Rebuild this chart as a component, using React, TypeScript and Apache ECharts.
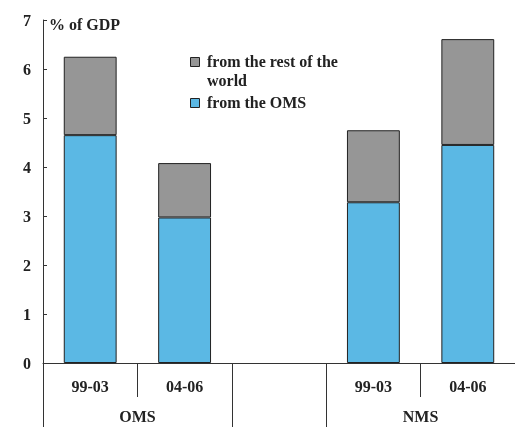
import React, { useEffect, useRef } from "react";
import * as echarts from "echarts";

const categories = ["99-03", "04-06", "", "99-03", "04-06"];
const groups = [
  { name: "OMS", from: 0, to: 1 },
  { name: "NMS", from: 3, to: 4 },
];
const seriesNames = ["from the rest of the world", "from the OMS"];
const fromOMS: (number | null)[] = [4.65, 2.97, null, 3.28, 4.45];
const fromRest: (number | null)[] = [1.6, 1.11, null, 1.47, 2.16];
const yTicks = { min: 0, max: 7, interval: 1 };

const FONT = "'Liberation Serif', 'Times New Roman', serif";
const GREY = "#969696";
const BLUE = "#5BB8E4";
const AXIS = "#333";

export default function App() {
  const ref = useRef<HTMLDivElement>(null);
  useEffect(() => {
    if (!ref.current) return;
    const chart = echarts.init(ref.current, null, { renderer: "svg" });
    const txt = { fontFamily: FONT, fontWeight: "bold" as const, fontSize: 16, color: "#222" };
    chart.setOption({
      animation: false,
      grid: { left: 43, right: 0, top: 20, bottom: 64, containLabel: false },
      xAxis: {
        type: "category",
        data: categories,
        boundaryGap: true,
        axisLine: { lineStyle: { color: AXIS, width: 1 } },
        axisTick: { show: true, interval: 0, length: 34, lineStyle: { color: AXIS } },
        axisLabel: { ...txt, margin: 15, interval: 0 },
        splitLine: { show: false },
      },
      yAxis: {
        type: "value",
        min: yTicks.min,
        max: yTicks.max,
        interval: yTicks.interval,
        name: "% of GDP",
        nameLocation: "end",
        nameGap: -4,
        nameTextStyle: { ...txt, align: "left", verticalAlign: "middle", padding: [0, 0, 0, 6] },
        axisLine: { show: true, lineStyle: { color: AXIS, width: 1 } },
        axisTick: { show: true, inside: true, length: 4, lineStyle: { color: AXIS } },
        axisLabel: { ...txt, margin: 12 },
        splitLine: { show: false },
      },
      series: [
        {
          name: seriesNames[1],
          type: "bar",
          stack: "total",
          data: fromOMS,
          barWidth: "56%",
          itemStyle: { color: BLUE, borderColor: "#222", borderWidth: 1 },
        },
        {
          name: seriesNames[0],
          type: "bar",
          stack: "total",
          data: fromRest,
          barWidth: "56%",
          itemStyle: { color: GREY, borderColor: "#222", borderWidth: 1 },
        },
      ],
    });

    const px = (i: number) => chart.convertToPixel({ xAxisIndex: 0 }, i) as number;
    const band = px(1) - px(0);
    const y0 = chart.convertToPixel({ yAxisIndex: 0 }, 0) as number;
    const bottom = 427;
    const boundary = (i: number) => px(i) - band / 2;
    const longLines = [0, 2, 3].map((i) => ({
      type: "line",
      shape: { x1: Math.round(boundary(i)) + 0.5, y1: y0, x2: Math.round(boundary(i)) + 0.5, y2: bottom },
      style: { stroke: AXIS, lineWidth: 1 },
    }));
    const groupLabels = groups.map((g) => ({
      type: "text",
      x: (px(g.from) + px(g.to)) / 2,
      y: 416,
      style: { text: g.name, font: `bold 16px ${FONT}`, fill: "#222", align: "center", verticalAlign: "middle" },
    }));
    const legend = [
      { type: "rect", shape: { x: 190.5, y: 57.5, width: 9, height: 9 }, style: { fill: GREY, stroke: "#222", lineWidth: 1 } },
      {
        type: "text",
        x: 207,
        y: 52,
        style: { text: "from the rest of the\nworld", font: `bold 16px ${FONT}`, lineHeight: 19, fill: "#222", align: "left", verticalAlign: "top" },
      },
      { type: "rect", shape: { x: 190.5, y: 98.5, width: 9, height: 9 }, style: { fill: BLUE, stroke: "#222", lineWidth: 1 } },
      {
        type: "text",
        x: 207,
        y: 93,
        style: { text: seriesNames[1], font: `bold 16px ${FONT}`, lineHeight: 19, fill: "#222", align: "left", verticalAlign: "top" },
      },
    ];
    chart.setOption({ graphic: [...longLines, ...groupLabels, ...legend] });
    return () => chart.dispose();
  }, []);
  return <div ref={ref} style={{ position: "fixed", left: 0, top: 0, width: 515, height: 427 }} />;
}
